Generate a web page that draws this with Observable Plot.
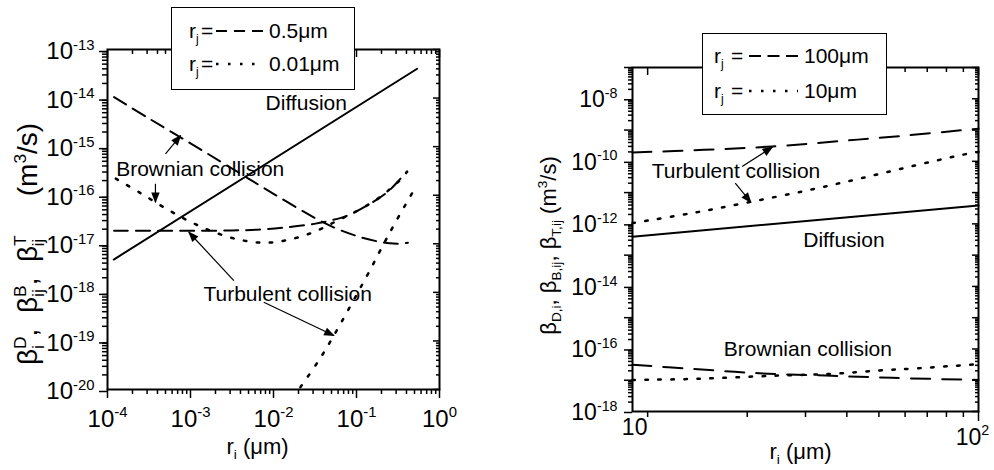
<!DOCTYPE html>
<html>
<head>
<meta charset="utf-8">
<script src="https://cdn.jsdelivr.net/npm/d3@7"></script>
<script src="https://cdn.jsdelivr.net/npm/@observablehq/plot@0.6"></script>
<style>
  html, body { margin: 0; padding: 0; background: #fff; }
  #fig { position: relative; width: 994px; height: 470px; overflow: hidden;
         font-family: 'Liberation Sans', Arial, Helvetica, sans-serif; color: #000; }
  #fig > svg { position: absolute; top: 0; }
  .legend { position: absolute; background: #fff; border: 1.5px solid #000; box-sizing: border-box; z-index: 2; }
  .legend .key, .legend .eq, .legend .lab { position: absolute; font-size: 21px; line-height: 28px; white-space: nowrap; }
  .legend sub { font-size: 12px; vertical-align: -5px; line-height: 0; }
  .legend svg { position: absolute; overflow: visible; }
</style>
</head>
<body>
<div id="fig"></div>
<script>
// ---------- Left panel: r_j = 0.5 µm and 0.01 µm (r_i in µm, β in m³/s) ----------
const leftDiffusionR = [1.19e-4, 0.538];
const leftDiffusionB = [4.74e-18, 4.01e-14];

const leftBrownian05R = [1.2e-4, 3.16e-4, 1e-3, 3.16e-3, 0.01, 0.0316, 0.0562, 0.1, 0.178, 0.251, 0.316, 0.417];
const leftBrownian05B = [1.05e-14, 3.8e-15, 1.17e-15, 3.55e-16, 1.07e-16, 3.39e-17, 2.09e-17, 1.45e-17, 1.12e-17, 1.02e-17, 1.0e-17, 1.05e-17];

const leftBrownian001R = [1.26e-4, 2.51e-4, 5.01e-4, 1e-3, 2.0e-3, 3.98e-3, 7.94e-3, 0.0158, 0.0316, 0.0562, 0.1, 0.178, 0.251, 0.316, 0.407];
const leftBrownian001B = [2.19e-16, 1.10e-16, 5.37e-17, 2.82e-17, 1.70e-17, 1.20e-17, 1.05e-17, 1.23e-17, 1.78e-17, 2.88e-17, 4.68e-17, 8.32e-17, 1.32e-16, 1.86e-16, 3.02e-16];

const leftTurbulent05R = [1.2e-4, 1e-3, 3.16e-3, 7.08e-3, 0.0148, 0.0309, 0.049, 0.0776, 0.135, 0.234, 0.339, 0.407];
const leftTurbulent05B = [1.86e-17, 1.86e-17, 1.88e-17, 1.97e-17, 2.19e-17, 2.57e-17, 3.02e-17, 3.80e-17, 6.17e-17, 1.15e-16, 2.19e-16, 3.09e-16];

const leftTurbulent001R = [0.0211, 0.0352, 0.0533, 0.1346, 0.1945, 0.2812, 0.4898];
const leftTurbulent001B = [1.12e-20, 3.98e-20, 1.29e-19, 2.24e-18, 7.41e-18, 2.40e-17, 1.26e-16];

const leftNoteText = ["Diffusion", "Brownian collision", "Turbulent collision"];
const leftNoteR = [0.0248, 1.31e-3, 0.01483];
const leftNoteB = [7.73e-15, 3.42e-16, 9.04e-19];

const leftArrowFromR = [5.0e-4, 3.78e-4, 3.33e-3, 7.64e-3];
const leftArrowFromB = [7.13e-16, 1.72e-16, 1.75e-18, 6.27e-19];
const leftArrowToR = [7.59e-4, 3.78e-4, 9.55e-4, 0.0533];
const leftArrowToB = [1.69e-15, 7.18e-17, 1.73e-17, 1.29e-19];

const leftXTicks = [1e-4, 1e-3, 1e-2, 1e-1, 1];
const leftYTicks = [1e-20, 1e-19, 1e-18, 1e-17, 1e-16, 1e-15, 1e-14, 1e-13];
const leftLegendLabels = ["0.5μm", "0.01μm"];

// ---------- Right panel: r_j = 100 µm and 10 µm ----------
const rightDiffusionR = [9, 100];
const rightDiffusionB = [3.9e-13, 3.86e-12];

const rightTurbulent100R = [9.0, 14.8, 23.8, 37.8, 60.3, 100];
const rightTurbulent100B = [1.91e-10, 2.33e-10, 2.98e-10, 4.40e-10, 6.68e-10, 1.11e-9];

const rightTurbulent10R = [9.0, 9.63, 13.96, 20.2, 30.3, 43.5, 62.4, 89.3, 100];
const rightTurbulent10B = [1.06e-12, 1.19e-12, 2.31e-12, 4.92e-12, 1.17e-11, 2.76e-11, 6.84e-11, 1.61e-10, 2.0e-10];

const rightBrownian100R = [9.0, 13.6, 21.7, 34.5, 54.8, 100];
const rightBrownian100B = [3.13e-17, 2.31e-17, 1.67e-17, 1.41e-17, 1.19e-17, 1.02e-17];

const rightBrownian10R = [9.0, 9.74, 14.1, 24.7, 36.1, 50.0, 66.1, 96.8, 100];
const rightBrownian10B = [1.02e-17, 1.03e-17, 1.11e-17, 1.41e-17, 1.60e-17, 2.04e-17, 2.42e-17, 3.18e-17, 3.24e-17];

const rightNoteText = ["Turbulent collision", "Diffusion", "Brownian collision"];
const rightNoteR = [18.5, 39.2, 30.5];
const rightNoteB = [4.72e-11, 2.95e-13, 1.0e-16];

const rightArrowFromR = [19.3, 18.4];
const rightArrowFromB = [6.82e-11, 2.0e-11];
const rightArrowToR = [23.8, 20.5];
const rightArrowToB = [2.82e-10, 4.92e-12];

const rightXTicks = [10, 100];
const rightXTickLabels = ["10", "10^{2}"];
const rightYTicks = [1e-18, 1e-17, 1e-16, 1e-15, 1e-14, 1e-13, 1e-12, 1e-11, 1e-10, 1e-9, 1e-8, 1e-7];
const rightYLabelled = [1e-18, 1e-16, 1e-14, 1e-12, 1e-10, 1e-8];
const rightLegendLabels = ["100μm", "10μm"];

// ---------- helpers ----------
const FONT = "'Liberation Sans', Arial, Helvetica, sans-serif";
const NS = "http://www.w3.org/2000/svg";
const NBSP = "\u00A0";
const pts = (rs, bs) => rs.map((r, i) => ({r, b: bs[i]}));
const notes = (txt, rs, bs) => txt.map((t, i) => ({t, r: rs[i], b: bs[i]}));
const arrows = (r1, b1, r2, b2) => r1.map((_, i) => ({r1: r1[i], b1: b1[i], r2: r2[i], b2: b2[i]}));
const pow10 = (d) => `10^{${Math.round(Math.log10(d))}}`;
const blank = () => "";
function minorTicks(lo, hi) {
  const out = [];
  for (let e = Math.floor(Math.log10(lo)); e < Math.ceil(Math.log10(hi)); e++)
    for (let k = 2; k < 10; k++) {
      const v = k * Math.pow(10, e);
      if (v > lo * 1.0001 && v < hi * 0.9999) out.push(v);
    }
  return out;
}
const SOLID = {strokeWidth: 2};
const axisStyle = {label: null, strokeWidth: 1.5};

// Turns "_{..}" and "^{..}" markup inside SVG text into sub/superscript tspans.
function richify(root) {
  root.querySelectorAll("text").forEach((t) => {
    const src = t.textContent;
    if (!/[_^]\{/.test(src)) return;
    const fs = parseFloat(getComputedStyle(t).fontSize) || 16;
    const small = +(fs * 0.62).toFixed(2);
    const up = -0.4 * fs, down = 0.24 * fs;
    t.textContent = "";
    let shift = 0, pad = 0;
    const add = (str, size, target, dx) => {
      const s = document.createElementNS(NS, "tspan");
      s.textContent = str;
      if (size) s.setAttribute("font-size", size);
      const dy = target - shift;
      if (dy) s.setAttribute("dy", dy.toFixed(2));
      const ddx = (dx || 0) + pad;
      if (ddx) s.setAttribute("dx", ddx.toFixed(2));
      pad = 0; shift = target;
      t.appendChild(s);
      return s;
    };
    for (const m of src.matchAll(/_\{([^}]*)\}\^\{([^}]*)\}|_\{([^}]*)\}|\^\{([^}]*)\}|([^_^]+)/g)) {
      if (m[5] !== undefined) add(m[5], null, 0);
      else if (m[3] !== undefined) add(m[3], small, down);
      else if (m[4] !== undefined) add(m[4], small, up);
      else {
        const sup = add(m[2], small, up);
        const wUp = sup.getComputedTextLength();
        const sub = add(m[1], small, down, -wUp);
        const wDown = sub.getComputedTextLength();
        pad = Math.max(0, wUp - wDown);
      }
    }
  });
}

// Solid triangular arrowheads for the annotation links.
function solidArrowheads(root) {
  root.querySelectorAll("marker").forEach((m) => {
    m.setAttribute("viewBox", "-9 -5 10 10");
    m.setAttribute("markerWidth", 10);
    m.setAttribute("markerHeight", 10);
    m.setAttribute("fill", "#000");
    m.setAttribute("stroke", "none");
    while (m.firstChild) m.removeChild(m.firstChild);
    const p = document.createElementNS(NS, "path");
    p.setAttribute("d", "M-8,-3.5L1,0L-8,3.5Z");
    m.appendChild(p);
  });
}

function legend(parent, box, labels, dashes) {
  const div = d3.select(parent).append("div").attr("class", "legend")
    .style("left", box.left + "px").style("top", box.top + "px")
    .style("width", box.width + "px").style("height", box.height + "px");
  labels.forEach((label, i) => {
    const cy = box.rowY[i];
    div.append("div").attr("class", "key")
      .style("left", box.keyX + "px").style("top", (cy - 14) + "px").html("r<sub>j</sub>");
    div.append("div").attr("class", "eq")
      .style("left", box.eqX + "px").style("top", (cy - 14) + "px").text("=");
    const s = div.append("svg").attr("width", box.lineW).attr("height", 6)
      .style("left", box.lineX + "px").style("top", (cy - 3) + "px");
    s.append("line").attr("x1", 0).attr("x2", box.lineW).attr("y1", 3).attr("y2", 3)
      .attr("stroke", "#000").attr("stroke-width", dashes[i].w).attr("stroke-dasharray", dashes[i].d);
    div.append("div").attr("class", "lab")
      .style("left", box.textX + "px").style("top", (cy - 14) + "px").text(label);
  });
}

// ---------- left panel ----------
const leftXMinor = minorTicks(1e-4, 1);
const leftYMinor = minorTicks(1e-20, 1e-13);
const LDASH = {strokeWidth: 2, strokeDasharray: "14,8"};
const LDOT = {strokeWidth: 2.5, strokeDasharray: "2.5,10.5"};

const left = Plot.plot({
  width: 497, height: 470,
  marginLeft: 107, marginRight: 58, marginTop: 49, marginBottom: 81,
  style: {fontFamily: FONT, color: "#000", background: "#fff", overflow: "visible"},
  x: {type: "log", domain: [1e-4, 1]},
  y: {type: "log", domain: [1e-20, 1e-13]},
  marks: [
    Plot.axisX(leftXMinor, {...axisStyle, tickSize: 5, tickFormat: blank}),
    Plot.axisX(leftXTicks, {...axisStyle, tickSize: 9, tickPadding: 11, tickFormat: pow10, fontSize: 24}),
    Plot.axisX(leftXMinor, {...axisStyle, anchor: "top", tickSize: -4, tickFormat: blank}),
    Plot.axisX(leftXTicks, {...axisStyle, anchor: "top", tickSize: -7, tickFormat: blank}),
    Plot.axisY(leftYMinor, {...axisStyle, tickSize: 5, tickFormat: blank}),
    Plot.axisY(leftYTicks, {...axisStyle, tickSize: 8, tickPadding: 5, tickFormat: pow10, fontSize: 24, dy: 2}),
    Plot.axisY(leftYMinor, {...axisStyle, anchor: "right", tickSize: -4, tickFormat: blank}),
    Plot.axisY(leftYTicks, {...axisStyle, anchor: "right", tickSize: -7, tickFormat: blank}),
    Plot.frame({strokeWidth: 2}),
    Plot.line(pts(leftDiffusionR, leftDiffusionB), {x: "r", y: "b", ...SOLID}),
    Plot.line(pts(leftBrownian05R, leftBrownian05B), {x: "r", y: "b", ...LDASH, curve: "catmull-rom"}),
    Plot.line(pts(leftTurbulent05R, leftTurbulent05B), {x: "r", y: "b", ...LDASH, curve: "catmull-rom"}),
    Plot.line(pts(leftBrownian001R, leftBrownian001B), {x: "r", y: "b", ...LDOT, curve: "catmull-rom"}),
    Plot.line(pts(leftTurbulent001R, leftTurbulent001B), {x: "r", y: "b", ...LDOT, curve: "catmull-rom"}),
    Plot.link(arrows(leftArrowFromR, leftArrowFromB, leftArrowToR, leftArrowToB),
      {x1: "r1", y1: "b1", x2: "r2", y2: "b2", strokeWidth: 1.2, markerEnd: "arrow"}),
    Plot.text(notes(leftNoteText, leftNoteR, leftNoteB), {x: "r", y: "b", text: "t", fontSize: 21}),
    Plot.text(["r_{i} (μm)"], {text: (d) => d, frameAnchor: "bottom", dx: -16, dy: 64, fontSize: 22}),
    Plot.text([`β_{i}^{D},${NBSP} β_{ij}^{B},${NBSP} β_{ij}^{T}`], {text: (d) => d, frameAnchor: "left", textAnchor: "middle", rotate: -90, dx: -79, dy: 81, fontSize: 28}),
    Plot.text(["(m^{3}/s)"], {text: (d) => d, frameAnchor: "left", textAnchor: "middle", rotate: -90, dx: -79, dy: -60, fontSize: 28})
  ]
});

// ---------- right panel ----------
const rightXMinor = minorTicks(9, 100).filter((v) => v > 10);
const rightYMinor = minorTicks(1e-18, 1e-7);
const rightYOdd = rightYTicks.filter((v) => !rightYLabelled.includes(v));
const RDASH = {strokeWidth: 2, strokeDasharray: "19,12"};
const RDOT = {strokeWidth: 2.5, strokeDasharray: "2.5,10.5"};

const right = Plot.plot({
  width: 497, height: 470,
  marginLeft: 135, marginRight: 16, marginTop: 67, marginBottom: 59,
  style: {fontFamily: FONT, color: "#000", background: "#fff", overflow: "visible"},
  x: {type: "log", domain: [9, 100]},
  y: {type: "log", domain: [1e-18, 1e-7]},
  marks: [
    Plot.axisX(rightXMinor, {...axisStyle, tickSize: 6, tickFormat: blank}),
    Plot.axisX([rightXTicks[0]], {...axisStyle, tickSize: 6, tickFormat: blank}),
    Plot.axisX([rightXTicks[1]], {...axisStyle, tickSize: 10, tickFormat: blank}),
    Plot.axisX(rightXMinor, {...axisStyle, anchor: "top", tickSize: -4, tickFormat: blank}),
    Plot.axisX(rightXTicks, {...axisStyle, anchor: "top", tickSize: -7, tickFormat: blank}),
    Plot.axisY(rightYMinor, {...axisStyle, tickSize: 4, tickFormat: blank}),
    Plot.axisY(rightYOdd, {...axisStyle, tickSize: 8, tickFormat: blank}),
    Plot.axisY(rightYLabelled, {...axisStyle, tickSize: 8, tickPadding: 7, tickFormat: pow10, fontSize: 23, dy: 1}),
    Plot.axisY(rightYMinor, {...axisStyle, anchor: "right", tickSize: -4, tickFormat: blank}),
    Plot.axisY(rightYTicks, {...axisStyle, anchor: "right", tickSize: -7, tickFormat: blank}),
    Plot.frame({strokeWidth: 2}),
    Plot.text([0], {x: () => rightXTicks[0], text: () => rightXTickLabels[0], frameAnchor: "bottom", dx: -13, dy: 23, fontSize: 23}),
    Plot.text([1], {x: () => rightXTicks[1], text: () => rightXTickLabels[1], frameAnchor: "bottom", dx: -6, dy: 33, fontSize: 23}),
    Plot.line(pts(rightDiffusionR, rightDiffusionB), {x: "r", y: "b", ...SOLID}),
    Plot.line(pts(rightTurbulent100R, rightTurbulent100B), {x: "r", y: "b", ...RDASH, curve: "catmull-rom"}),
    Plot.line(pts(rightTurbulent10R, rightTurbulent10B), {x: "r", y: "b", ...RDOT, curve: "catmull-rom"}),
    Plot.line(pts(rightBrownian100R, rightBrownian100B), {x: "r", y: "b", ...RDASH, curve: "catmull-rom"}),
    Plot.line(pts(rightBrownian10R, rightBrownian10B), {x: "r", y: "b", ...RDOT, curve: "catmull-rom"}),
    Plot.link(arrows(rightArrowFromR, rightArrowFromB, rightArrowToR, rightArrowToB),
      {x1: "r1", y1: "b1", x2: "r2", y2: "b2", strokeWidth: 1.2, markerEnd: "arrow"}),
    Plot.text(notes(rightNoteText, rightNoteR, rightNoteB), {x: "r", y: "b", text: "t", fontSize: 21}),
    Plot.text(["r_{i} (μm)"], {text: (d) => d, frameAnchor: "bottom", dx: -5, dy: 47, fontSize: 22}),
    Plot.text(["β_{D,i}, β_{B,ij}, β_{T,ij} (m^{3}/s)"], {text: (d) => d, frameAnchor: "left", textAnchor: "middle", rotate: -90, dx: -84, dy: 6, fontSize: 22})
  ]
});

const fig = document.getElementById("fig");
left.style.left = "0px";
right.style.left = "497px";
fig.appendChild(left);
fig.appendChild(right);
richify(left); richify(right);
solidArrowheads(left); solidArrowheads(right);

legend(fig, {left: 171, top: 7, width: 184, height: 83, rowY: [23, 56], keyX: 17, eqX: 29, lineX: 44, lineW: 48, textX: 97},
  leftLegendLabels, [{d: "11,7", w: 2}, {d: "2.5,9.5", w: 2.5}]);
legend(fig, {left: 702, top: 33, width: 185, height: 82, rowY: [22, 57], keyX: 11, eqX: 28, lineX: 46, lineW: 49, textX: 101},
  rightLegendLabels, [{d: "12,6.5", w: 2}, {d: "2.5,9.5", w: 2.5}]);
</script>
</body>
</html>
